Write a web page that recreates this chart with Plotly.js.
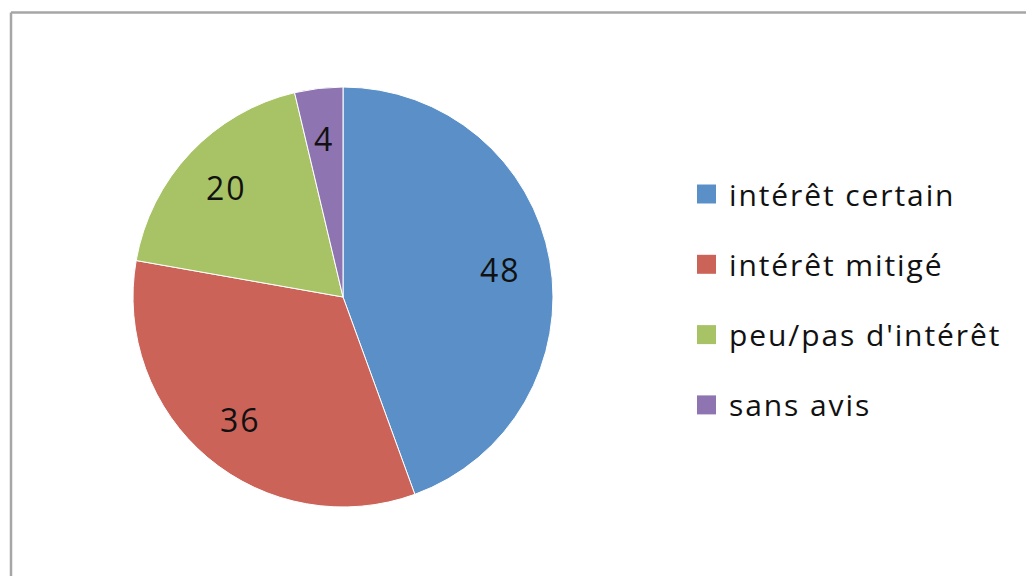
<!DOCTYPE html>
<html>
<head>
<meta charset="utf-8">
<script src="https://cdn.plot.ly/plotly-3.0.1.min.js"></script>
<style>
html,body{margin:0;padding:0;background:#fff;}
#chart{width:1026px;height:576px;}
#chart .annotation-text{letter-spacing:1.9px;}
</style>
</head>
<body>
<div id="chart"></div>
<script>
const categories = ["intérêt certain", "intérêt mitigé", "peu/pas d'intérêt", "sans avis"];
const values = [48, 36, 20, 4];
const colors = ["#5A8FC8", "#CB6359", "#A7C365", "#8E74B0"];

const W = 1026, H = 576;
const FONT = "Open Sans, Noto Sans, sans-serif";
const CX = 343, CY = 297, R = 210;

const trace = {
  type: "pie",
  labels: categories,
  values: values,
  sort: false,
  direction: "clockwise",
  rotation: 0,
  marker: { colors: colors, line: { color: "#ffffff", width: 1 } },
  textinfo: "none",
  domain: { x: [(CX - R) / W, (CX + R) / W], y: [(H - CY - R) / H, (H - CY + R) / H] },
  showlegend: false,
  hoverinfo: "label+value"
};

const shapes = [
  { type: "line", xref: "paper", yref: "paper", x0: 11 / W, x1: 1.02, y0: (H - 12.5) / H, y1: (H - 12.5) / H, line: { color: "#a6a6a6", width: 2.5 } },
  { type: "line", xref: "paper", yref: "paper", x0: 11 / W, x1: 11 / W, y0: (H - 12.5) / H, y1: -0.02, line: { color: "#a6a6a6", width: 2.5 } }
];
const annotations = [];

// value labels placed along each slice's bisector (derived from the data)
const total = values.reduce((a, b) => a + b, 0);
let cum = 0;
values.forEach((v) => {
  const mid = (cum + v / 2) / total * 2 * Math.PI;
  cum += v;
  const rr = 0.76 * R;
  const px = CX + rr * Math.sin(mid);
  const py = CY - rr * Math.cos(mid);
  annotations.push({
    xref: "paper", yref: "paper", x: px / W, y: (H - py) / H,
    xanchor: "center", yanchor: "middle", showarrow: false,
    text: String(v), font: { family: FONT, size: 32, color: "#111111" }
  });
});

const legendTop = 194, legendStep = 70.3, sq = 19, sqX = 697, txtX = 727;
categories.forEach((c, i) => {
  const cy = legendTop + i * legendStep;
  shapes.push({
    type: "rect", xref: "paper", yref: "paper",
    x0: sqX / W, x1: (sqX + sq) / W,
    y0: (H - cy - sq / 2) / H, y1: (H - cy + sq / 2) / H,
    fillcolor: colors[i], line: { width: 0 }
  });
  annotations.push({
    xref: "paper", yref: "paper", x: txtX / W, y: (H - cy) / H,
    xanchor: "left", yanchor: "middle", align: "left", showarrow: false,
    text: c, font: { family: FONT, size: 30, color: "#111111" }
  });
});

const layout = {
  width: W, height: H,
  margin: { l: 0, r: 0, t: 0, b: 0 },
  paper_bgcolor: "#ffffff",
  plot_bgcolor: "#ffffff",
  showlegend: false,
  shapes: shapes,
  annotations: annotations
};

Plotly.newPlot("chart", [trace], layout, { displayModeBar: false, staticPlot: true });
</script>
</body>
</html>
